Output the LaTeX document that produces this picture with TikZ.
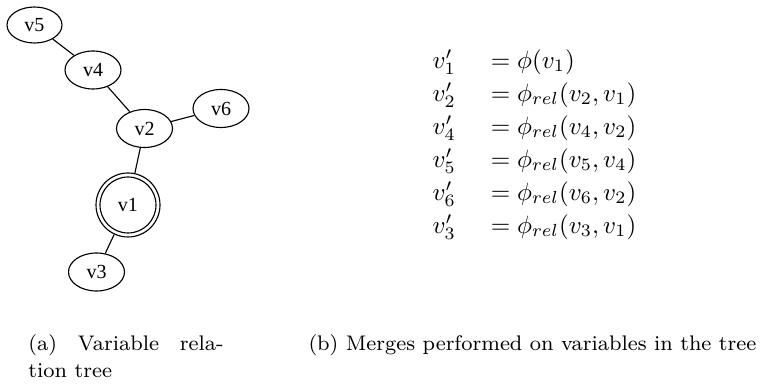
\documentclass[tikz,border=0pt]{standalone}
\usepackage{fontspec}
\usepackage{amsmath}
\newfontfamily\gvfont{Liberation Serif}
\usetikzlibrary{shapes.geometric}
\tikzset{
  gvnode/.style={ellipse, draw, line width=0.45pt, inner sep=0pt,
    minimum width=22.4pt, minimum height=15.2pt,
    font=\gvfont\fontsize{8pt}{9.6pt}\selectfont},
  rootnode/.style={circle, draw, line width=0.45pt, inner sep=0pt,
    minimum size=25.6pt, font=\gvfont\fontsize{8pt}{9.6pt}\selectfont},
  gvedge/.style={line width=0.45pt},
  captext/.style={font=\fontsize{8.45pt}{10.6pt}\selectfont, inner sep=0pt}
}
\begin{document}
\begin{tikzpicture}[x=0.4pt, y=-0.4pt]
\useasboundingbox (0,0) rectangle (761,385);
% tree
\node[gvnode, minimum width=22pt, minimum height=14.4pt] (v5) at (34.5,25) {v5};
\node[gvnode] (v4) at (93,70) {v4};
\node[gvnode] (v2) at (144.5,128.5) {v2};
\node[gvnode] (v6) at (221,108.5) {v6};
\node[rootnode] (v1) at (128,205) {v1};
\draw[gvedge] (v1.center) circle (11.2pt);
\node[gvnode] (v3) at (96.5,272) {v3};
\draw[gvedge] (v5) -- (v4);
\draw[gvedge] (v4) -- (v2);
\draw[gvedge] (v2) -- (v6);
\draw[gvedge] (v2) -- (v1);
\draw[gvedge] (v1) -- (v3);
% equations
\node[anchor=west, inner sep=0pt] (eqs) at (432,144) {%
  \renewcommand{\arraystretch}{1.1}%
  $\begin{array}{@{}l@{\hspace{14pt}}l@{}}
  v'_1 & = \phi(v_1)\\
  v'_2 & = \phi_{rel}(v_2, v_1)\\
  v'_4 & = \phi_{rel}(v_4, v_2)\\
  v'_5 & = \phi_{rel}(v_5, v_4)\\
  v'_6 & = \phi_{rel}(v_6, v_2)\\
  v'_3 & = \phi_{rel}(v_3, v_1)
  \end{array}$};
% captions
\node[captext, anchor=base west, text width=78pt, align=justify] (capa) at (28,351)
  {(a) Variable rela-\linebreak tion tree};
\node[captext, anchor=base west] (capb) at (308,351)
  {(b) Merges performed on variables in the tree};
\end{tikzpicture}
\end{document}
